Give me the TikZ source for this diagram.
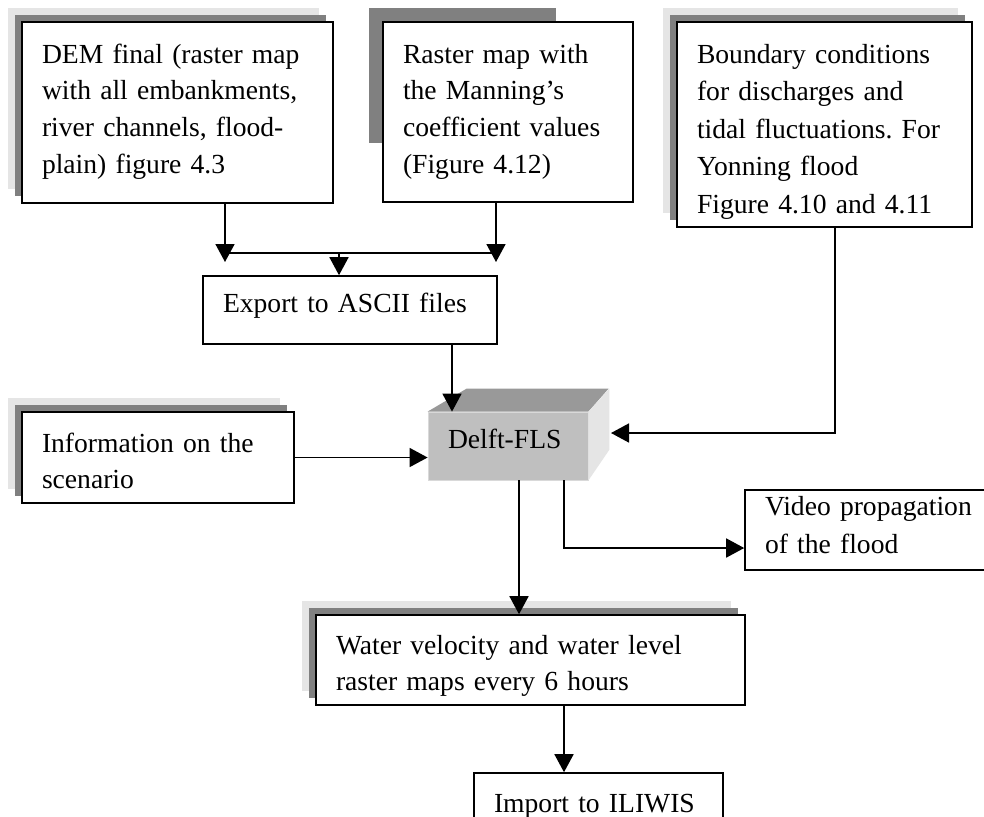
\documentclass[tikz,border=0pt]{standalone}
\usepackage{fontspec}
\setmainfont{Liberation Serif}
\usetikzlibrary{arrows.meta, shadows}

\begin{document}
\frenchspacing
\begin{tikzpicture}[
    x=0.5pt, y=-0.5pt,
    font=\fontsize{13.8}{18.4}\selectfont,
    % Styles
    process_box/.style={draw, line width=0.8pt, fill=white, align=left, inner xsep=10pt, inner ysep=0pt},
    layered_shadow/.style={
        general shadow={fill=black!10, shadow xshift=-7.25pt, shadow yshift=7.25pt},
        general shadow={fill=black!50, shadow xshift=-3.75pt, shadow yshift=3.75pt}},
    cube_front/.style={fill=black!25, draw=black!15, align=left, inner xsep=10pt, inner ysep=0pt},
    cube_top/.style={fill=black!40},
    cube_side/.style={fill=black!10},
    flow_arrow/.style={-{Triangle[length=9pt, width=9.5pt]}, line width=0.8pt},
    flow_line/.style={line width=0.8pt}
]

    % ==========================================
    % 1. CANVAS
    % ==========================================
    \fill[white] (0,0) rectangle (984,816);
    \useasboundingbox (0,0) rectangle (984,816);

    % ==========================================
    % 2. INPUT BOXES (top row)
    % ==========================================
    \node[process_box, layered_shadow, text width=135.5pt, text height=20.5pt, text depth=70pt] (dem) at (177.5,112.5)
        {DEM final (raster map\\with all embankments,\\river channels, flood-\\plain) figure 4.3};

    \fill[black!50] (369,8) rectangle (556,143);
    \node[process_box, text width=105pt, text height=20.5pt, text depth=69.5pt] (raster) at (508,112)
        {Raster map with\\the Manning’s\\coefficient values\\(Figure 4.12)};

    \node[process_box, layered_shadow, text width=127.5pt, text height=20.5pt, text depth=82pt,
          font=\fontsize{13.8}{18.75}\selectfont] (bound) at (824.5,124.5)
        {Boundary conditions\\for discharges and\\tidal fluctuations. For\\Yonning flood\\Figure 4.10 and 4.11};

    % ==========================================
    % 3. PROCESSING
    % ==========================================
    \node[process_box, text width=127pt, text height=18pt, text depth=16pt] (export) at (350,310)
        {Export to ASCII files};

    \node[process_box, layered_shadow, text width=116pt, text height=20pt, text depth=25.5pt] (info) at (158,457.5)
        {Information on the\\scenario};

    % Delft-FLS block (front face + top + side)
    \node[cube_front, text width=60pt, text height=18pt, text depth=16pt] (delft) at (508,446) {Delft-FLS};
    \fill[cube_top] (delft.north west) -- ++(39,-23) -- ++(142,0) -- (delft.north east) -- cycle;
    \fill[cube_side] (delft.north east) -- ++(21,-23) -- ++(0,61) -- (delft.south east) -- cycle;

    % ==========================================
    % 4. OUTPUTS
    % ==========================================
    \node[process_box, text width=112.5pt, text height=12.5pt, text depth=27.5pt,
          font=\fontsize{13.8}{19}\selectfont] (video) at (877.5,530)
        {Video propagation\\of the flood};

    \node[process_box, layered_shadow, text width=194.5pt, text height=19.5pt, text depth=25.5pt] (water) at (530.5,660)
        {Water velocity and water level\\raster maps every 6 hours};

    \node[process_box, text width=104.5pt, text height=19.5pt, text depth=11.5pt] (import) at (598.5,804)
        {Import to ILIWIS};

    % ==========================================
    % 5. CONNECTORS
    % ==========================================
    \coordinate (dem_tip) at (225,262);
    \coordinate (raster_tip) at (496,262);
    \coordinate (merge_left) at (225,253);
    \coordinate (merge_right) at (496,253);
    \coordinate (merge_mid) at (339,253);
    \draw[flow_arrow] (dem.south -| dem_tip) -- (dem_tip);
    \draw[flow_arrow] (raster.south -| raster_tip) -- (raster_tip);
    \draw[flow_line] (merge_left) -- (merge_right);
    \draw[flow_arrow] (merge_mid) -- (export.north -| merge_mid);

    \coordinate (delft_in) at (452,0);
    \draw[flow_arrow] (export.south -| delft_in) -- (delft.north -| delft_in);

    \coordinate (bound_turn) at (835,433);
    \coordinate (delft_back) at (611,433);
    \draw[flow_arrow] (bound.south -| bound_turn) -- (bound_turn) -- (delft_back);

    \draw[flow_arrow] (info.east) -- (delft.west |- info.east);

    \coordinate (water_in) at (519,0);
    \draw[flow_arrow] (delft.south -| water_in) -- (water.north -| water_in);

    \coordinate (video_turn) at (564,548);
    \draw[flow_arrow] (delft.south -| video_turn) -- (video_turn) -- (video.west |- video_turn);

    \coordinate (import_in) at (564,0);
    \draw[flow_arrow] (water.south -| import_in) -- (import.north -| import_in);

\end{tikzpicture}
\end{document}
